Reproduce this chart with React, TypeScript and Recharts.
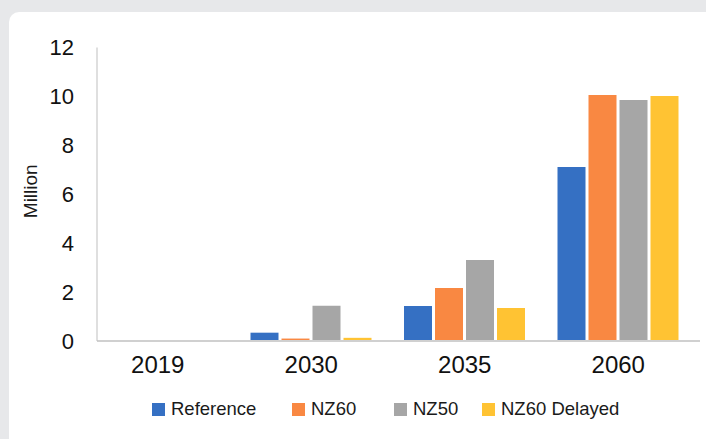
import React from 'react';
import { BarChart, Bar, XAxis, YAxis } from 'recharts';

const categories = ['2019', '2030', '2035', '2060'];
const reference = [0.03, 0.34, 1.43, 7.11];
const nz60 = [0.03, 0.1, 2.17, 10.06];
const nz50 = [0.03, 1.44, 3.31, 9.85];
const nz60Delayed = [0, 0.13, 1.35, 10.02];
const yTicks = [0, 2, 4, 6, 8, 10, 12];

const seriesNames = ['Reference', 'NZ60', 'NZ50', 'NZ60 Delayed'];
const seriesKeys = ['reference', 'nz60', 'nz50', 'nz60Delayed'];
const seriesColors = ['#3570c3', '#f98842', '#a6a6a6', '#ffc333'];
const legendSlotWidths = [140, 102, 88, 160];

const data = categories.map((c, i) => ({
  year: c,
  reference: reference[i],
  nz60: nz60[i],
  nz50: nz50[i],
  nz60Delayed: nz60Delayed[i],
}));

const FONT = '"Liberation Sans", Arial, sans-serif';

const YLabel = (props: any) => {
  const vb = props.viewBox || { x: 0, y: 0, width: 0, height: 0 };
  const cx = vb.x + 30;
  const cy = vb.y + vb.height / 2 - 3;
  return (
    <text
      x={cx}
      y={cy}
      transform={`rotate(-90, ${cx}, ${cy})`}
      textAnchor="middle"
      dominantBaseline="central"
      fontFamily={FONT}
      fontSize={19}
      fill="#1a1a1a"
    >
      Million
    </text>
  );
};

export default function App() {
  return (
    <div
      style={{
        position: 'fixed',
        left: 0,
        top: 0,
        width: 706,
        height: 439,
        background: '#e7e8ea',
        overflow: 'hidden',
      }}
    >
      <div
        style={{
          position: 'absolute',
          left: 9,
          top: 12,
          width: 720,
          height: 450,
          background: '#ffffff',
          borderRadius: 10,
        }}
      />
      <div style={{ position: 'absolute', left: 0, top: 0 }}>
        <BarChart
          width={706}
          height={439}
          data={data}
          margin={{ top: 47.5, right: 6, bottom: 68, left: 0 }}
          barSize={28}
          barGap={3}
        >
          <XAxis
            dataKey="year"
            height={30}
            padding={{ left: -16, right: 5 }}
            axisLine={{ stroke: '#d0d0d0', strokeWidth: 2 }}
            tickLine={false}
            tickSize={0}
            tickMargin={15}
            tick={{ fontFamily: FONT, fontSize: 24, fill: '#111111' }}
          />
          <YAxis
            width={97}
            domain={[0, 12]}
            ticks={yTicks}
            interval={0}
            axisLine={{ stroke: '#bfbfbf', strokeWidth: 1 }}
            tickLine={false}
            tickSize={0}
            tickMargin={23}
            tick={{ fontFamily: FONT, fontSize: 22, fill: '#111111' }}
            label={<YLabel />}
          />
          {seriesKeys.map((k, i) => (
            <Bar key={k} dataKey={k} name={seriesNames[i]} fill={seriesColors[i]} isAnimationActive={false} />
          ))}
        </BarChart>
      </div>
      <div
        style={{
          position: 'absolute',
          left: 152,
          top: 398,
          display: 'flex',
          alignItems: 'center',
          fontFamily: FONT,
          fontSize: 18.5,
          color: '#1a1a1a',
          whiteSpace: 'nowrap',
        }}
      >
        {seriesNames.map((n, i) => (
          <div key={n} style={{ width: legendSlotWidths[i], display: 'flex', alignItems: 'center' }}>
            <span style={{ display: 'inline-block', width: 13, height: 13, background: seriesColors[i], marginRight: 6 }} />
            <span style={{ lineHeight: '22px' }}>{n}</span>
          </div>
        ))}
      </div>
    </div>
  );
}
